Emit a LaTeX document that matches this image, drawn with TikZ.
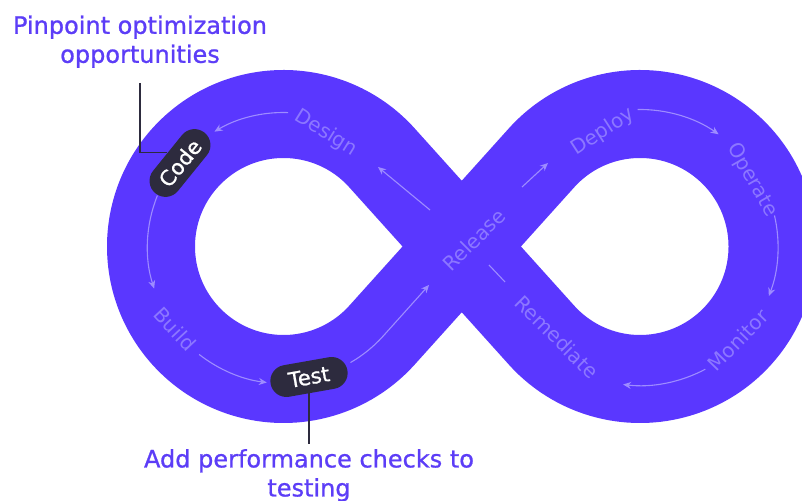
\documentclass[tikz,border=0pt]{standalone}
\usepackage{fontspec}
\setmainfont{DejaVu Sans}
\newfontfamily\notefont[FakeBold=0.9]{DejaVu Sans}
\usepackage{xcolor}
\usepackage{tikz}
\usetikzlibrary{arrows.meta,positioning,calc}
\definecolor{loop}{HTML}{5A37FF}
\definecolor{loopText}{HTML}{8C77FF}
\definecolor{loopArrow}{HTML}{9E8CFF}
\definecolor{ink}{HTML}{2D2B3E}
\definecolor{accent}{HTML}{5C3DF7}
\tikzset{
  band/.style={draw=loop,line width=88pt},
  flow/.style={draw=loopArrow,line width=1.1pt,-{Stealth[length=8pt,width=7pt]}},
  stage/.style={text=loopText,inner sep=0pt,font=\fontsize{20}{24}\selectfont},
  pill/.style={fill=ink,text=white,rounded corners=16pt,minimum width=78pt,minimum height=32pt,inner sep=0pt,font=\notefont\fontsize{21}{24}\selectfont},
  note/.style={text=accent,align=center,inner sep=0pt,font=\notefont\fontsize{24}{29}\selectfont},
  pointer/.style={draw=ink,line width=1.4pt}
}

\begin{document}
\begin{tikzpicture}[x=1pt,y=1pt]
\useasboundingbox (0,0) rectangle (802,500);
\clip (0,0) rectangle (802,500);

% loop centres and the crossing
\coordinate (lc) at (283.5,253.5);
\coordinate (rc) at (640,253.5);
\coordinate (mid) at (461.75,253.5);

% the infinity band
\draw[band] (mid) -- ($(lc)+(42:132.5)$) arc[start angle=42,end angle=318,radius=132.5]
  -- (mid) -- ($(rc)+(138:132.5)$) arc[start angle=138,end angle=-138,radius=132.5] -- cycle;

% stages
\node[pill,rotate=51] (code) at (180,337) {Code};
\node[pill,rotate=10] (test) at (309,123) {Test};
\node[stage,rotate=-32] (design) at (326,367) {Design};
\node[stage,rotate=-47] (build) at (175,171) {Build};
\node[stage,rotate=45] (release) at (474,260) {Release};
\node[stage,rotate=33] (deploy) at (603,368) {Deploy};
\node[stage,rotate=-60] (operate) at (752,320) {Operate};
\node[stage,rotate=46] (monitor) at (738,160) {Monitor};
\node[stage,rotate=-45] (remediate) at (557,163) {Remediate};

% flow along the loop
\draw[flow] ([shift={(-31.75,36.5)}]mid) -- ++(-52,43);
\draw[flow] ($(lc)+(88:134)$) arc[start angle=88,end angle=121,radius=134];
\draw[flow] ($(lc)+(158:136)$) arc[start angle=158,end angle=198,radius=136];
\draw[flow] ($(lc)+(232:137)$) arc[start angle=232,end angle=263,radius=137];
\draw[flow] ($(lc)+(300:134)$) arc[start angle=300,end angle=318,radius=134] -- ++(46,51.2);
\draw[flow] ([shift={(60.25,59.5)}]mid) -- ++(26,24);
\draw[flow] ($(rc)+(91:137)$) arc[start angle=91,end angle=55,radius=137];
\draw[flow] ($(rc)+(13:138)$) arc[start angle=13,end angle=-21,radius=138];
\draw[flow] ($(rc)+(-62:139)$) arc[start angle=-62,end angle=-97,radius=139];
\draw[draw=loopArrow,line width=1.1pt] ([shift={(27.25,-18.5)}]mid) -- ++(16,-17);

% callouts
\coordinate (pinfoot) at (140,417);
\node[note,above=15pt of pinfoot] (pinpoint) {Pinpoint optimization\\opportunities};
\draw[pointer] (pinfoot) |- (code.north);

\coordinate (testfoot) at (309,56);
\node[note,below=5pt of testfoot] (perf) {Add performance checks to\\testing};
\draw[pointer] (testfoot) -- (testfoot |- test.south);
\end{tikzpicture}
\end{document}
